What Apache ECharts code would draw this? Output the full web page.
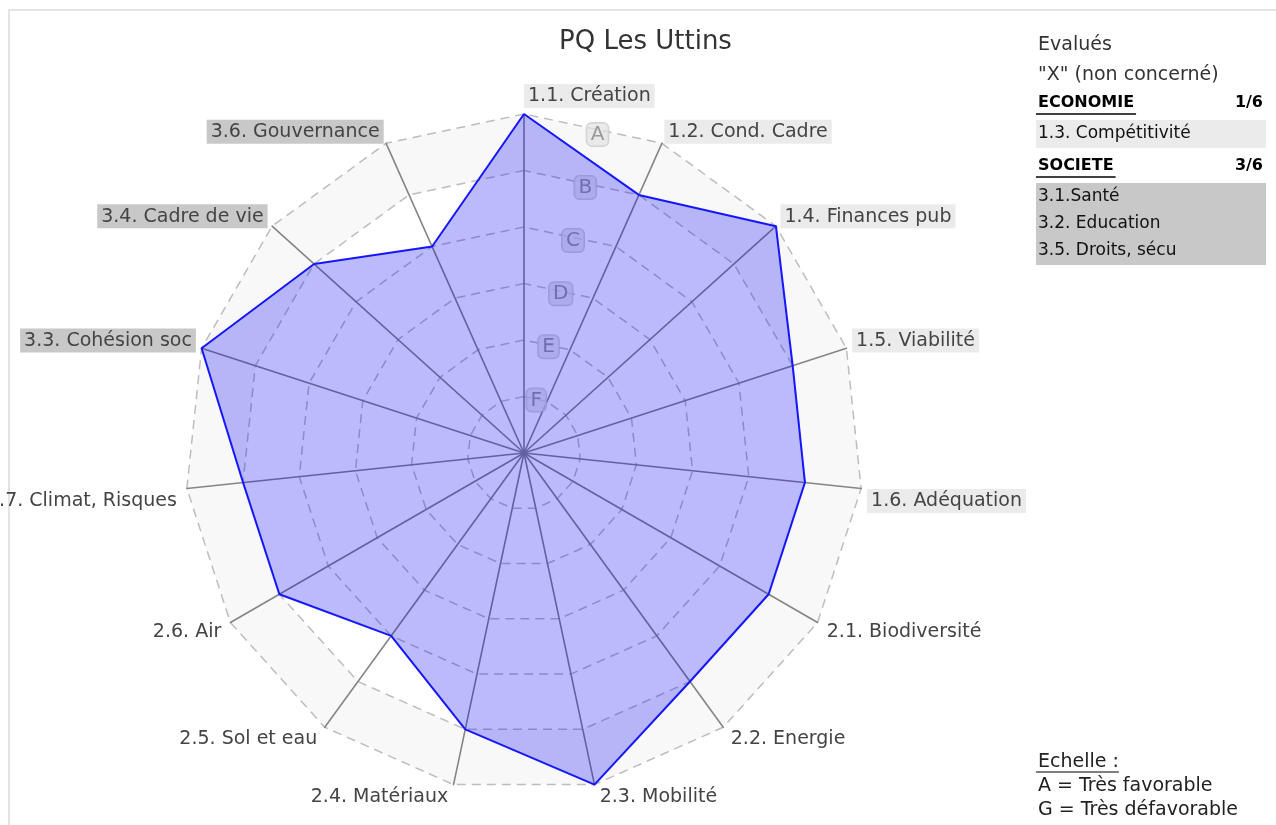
<!DOCTYPE html>
<html lang="fr">
<head>
    <meta charset="UTF-8">
    <title>PQ Les Uttins</title>
    <script src="https://cdn.jsdelivr.net/npm/echarts@6/dist/echarts.min.js"></script>
    <style>
        *{
            margin: 0;
            padding: 0;
        }
        .container{
            width: 1276px;
            height: 825px;
        }
    </style>
</head>
<body>
<div class="container"></div>
<script>
    // axes, clockwise from the top
    const categories = ['1.1. Création', '1.2. Cond. Cadre', '1.4. Finances pub', '1.5. Viabilité',
        '1.6. Adéquation', '2.1. Biodiversité', '2.2. Energie', '2.3. Mobilité', '2.4. Matériaux',
        '2.5. Sol et eau', '2.6. Air', '2.7. Climat, Risques', '3.3. Cohésion soc',
        '3.4. Cadre de vie', '3.6. Gouvernance'];
    // A = 6 ... F = 1, G = 0
    const scores = [6, 5, 6, 5, 5, 5, 5, 6, 5, 4, 5, 5, 6, 5, 4];
    const scaleLetters = ['G', 'F', 'E', 'D', 'C', 'B', 'A'];

    const headerLines = ['Evalués', '"X" (non concerné)'];
    const groupTitles = ['ECONOMIE', 'SOCIETE'];
    const groupCounts = ['1/6', '3/6'];
    const ecoExcluded = ['1.3. Compétitivité'];
    const socExcluded = ['3.1.Santé', '3.2. Education', '3.5. Droits, sécu'];
    const scaleNotes = ['Echelle :', 'A = Très favorable', 'G = Très défavorable'];

    const FONT = 'DejaVu Sans';
    let main = document.querySelectorAll(".container");
    let mycharts = echarts.init(main[0]);

    // echarts radar goes counter-clockwise, so flip the order after the first axis
    const n = categories.length;
    const order = categories.map((c, i) => (n - i) % n);
    const indicator = order.map(i => ({name: categories[i], min: 0, max: 6}));
    const values = order.map(i => scores[i]);

    const pad = [3, 4, 2, 4];
    function nameFormatter(name) {
        let i = categories.indexOf(name);
        let a = i * 2 * Math.PI / n;
        let grp = {'1': 'eco', '2': 'env', '3': 'soc'}[name[0]];
        let txt = '{' + grp + '|' + name + '}';
        // top label starts at the axis instead of being centred on it
        if (i === 0) return '{ghost|' + name + '}' + txt;
        if (Math.cos(a) > 0) return txt + '\n{gap| }';
        return (Math.abs(Math.sin(a)) > 0.9 ? '{gapL| }' : '{gap| }') + '\n' + txt;
    }

    // text measuring for underlines
    let ctx = document.createElement('canvas').getContext('2d');
    function textW(t, font) {
        ctx.font = font;
        return ctx.measureText(t).width;
    }

    let graphics = [];
    graphics.push({
        type: 'rect', silent: true,
        shape: {x: 9, y: 10, width: 1400, height: 1000},
        style: {fill: 'none', stroke: '#e4e4e4', lineWidth: 2}
    });
    function addText(t, x, y, opt) {
        graphics.push({
            type: 'text', silent: true,
            style: Object.assign({
                text: t, x: x, y: y, fill: '#333', fontSize: 19, fontFamily: FONT,
                align: 'left', verticalAlign: 'middle', textAlign: 'left', textVerticalAlign: 'middle'
            }, opt || {})
        });
    }
    function addUnderline(x1, x2, y, w) {
        graphics.push({
            type: 'line', silent: true,
            shape: {x1: x1, y1: y, x2: x2, y2: y},
            style: {stroke: '#000', lineWidth: w}
        });
    }

    headerLines.forEach((t, k) => addText(t, 1038, 45 + k * 30));

    let lists = [ecoExcluded, socExcluded];
    let boxColors = ['#ebebeb', '#c8c8c8'];
    let ty = 103;
    groupTitles.forEach((g, k) => {
        addText(g, 1038, ty, {fontSize: 16, fontWeight: 'bold', fill: '#000'});
        addText(groupCounts[k], 1263, ty, {fontSize: 16, fontWeight: 'bold', fill: '#000', align: 'right', textAlign: 'right'});
        addUnderline(1036, 1040 + textW(g, 'bold 16px ' + FONT), ty + 11, 1.5);
        let top = ty + 17;
        let h = lists[k].length * 27 + 1;
        graphics.push({
            type: 'rect', silent: true,
            shape: {x: 1036, y: top, width: 230, height: h},
            style: {fill: boxColors[k]}
        });
        lists[k].forEach((t, j) => addText(t, 1038, top + 14 + j * 27, {fontSize: 17, fill: '#111'}));
        ty = top + h + 18;
    });

    scaleNotes.forEach((t, k) => addText(t, 1038, 762 + k * 24, {fontSize: 19, fill: '#222'}));
    addUnderline(1036, 1038 + textW(scaleNotes[0], '19px ' + FONT), 772, 1);

    let Option = {
        animation: false,
        backgroundColor: '#fff',
        textStyle: {fontFamily: FONT},
        title: {
            text: 'PQ Les Uttins',
            left: 559,
            top: 29,
            padding: 0,
            textStyle: {fontSize: 26, fontWeight: 'normal', color: '#333', fontFamily: FONT}
        },
        radar: {
            center: [524, 453],
            radius: 339,
            startAngle: 90,
            shape: 'polygon',
            splitNumber: 6,
            nameGap: 6,
            axisName: {
                color: '#444',
                fontSize: 19,
                fontFamily: FONT,
                formatter: nameFormatter,
                rich: {
                    eco: {backgroundColor: '#ebebeb', padding: pad, fontSize: 19, color: '#444', fontFamily: FONT},
                    soc: {backgroundColor: '#c8c8c8', padding: pad, fontSize: 19, color: '#444', fontFamily: FONT},
                    env: {padding: pad, fontSize: 19, color: '#444', fontFamily: FONT},
                    ghost: {padding: pad, fontSize: 19, color: 'rgba(0,0,0,0)', fontFamily: FONT},
                    gap: {height: 12, lineHeight: 12, fontSize: 1},
                    gapL: {height: 24, lineHeight: 24, fontSize: 1}
                }
            },
            axisLine: {lineStyle: {color: '#858585', width: 1.6}},
            axisTick: {show: false},
            axisLabel: {show: false},
            splitLine: {lineStyle: {color: '#bdbdbd', width: 1.5, type: [9, 6]}},
            splitArea: {
                show: true,
                areaStyle: {color: ['#fff', '#fff', '#fff', '#fff', '#fff', '#f8f8f8']}
            },
            indicator: indicator
        },
        // scale letters, sitting between the first two axes
        polar: {
            center: [524, 453],
            radius: 327
        },
        angleAxis: {
            type: 'value',
            startAngle: 77,
            min: 0,
            max: 360,
            show: false
        },
        radiusAxis: {
            type: 'value',
            min: 0,
            max: 6,
            interval: 1,
            axisLine: {show: false},
            axisTick: {show: false},
            splitLine: {show: false},
            axisLabel: {
                margin: 0,
                fontSize: 20,
                align: 'center',
                verticalAlign: 'middle',
                formatter: v => v === 0 ? '' : '{t|' + scaleLetters[v] + '}',
                rich: {
                    t: {
                        color: '#999', fontSize: 20, fontFamily: FONT,
                        backgroundColor: 'rgba(226,226,226,0.7)',
                        borderColor: 'rgba(200,200,200,0.8)', borderWidth: 1, borderRadius: 5,
                        padding: [2, 4, 1, 4]
                    }
                }
            }
        },
        graphic: {elements: graphics},
        series: [{
            type: 'radar',
            symbol: 'none',
            lineStyle: {color: '#1a1aff', width: 2},
            areaStyle: {color: 'rgba(0,0,245,0.27)', opacity: 1},
            data: [{value: values, name: 'PQ Les Uttins'}]
        }]
    };

    mycharts.setOption(Option);
</script>
</body>
</html>
